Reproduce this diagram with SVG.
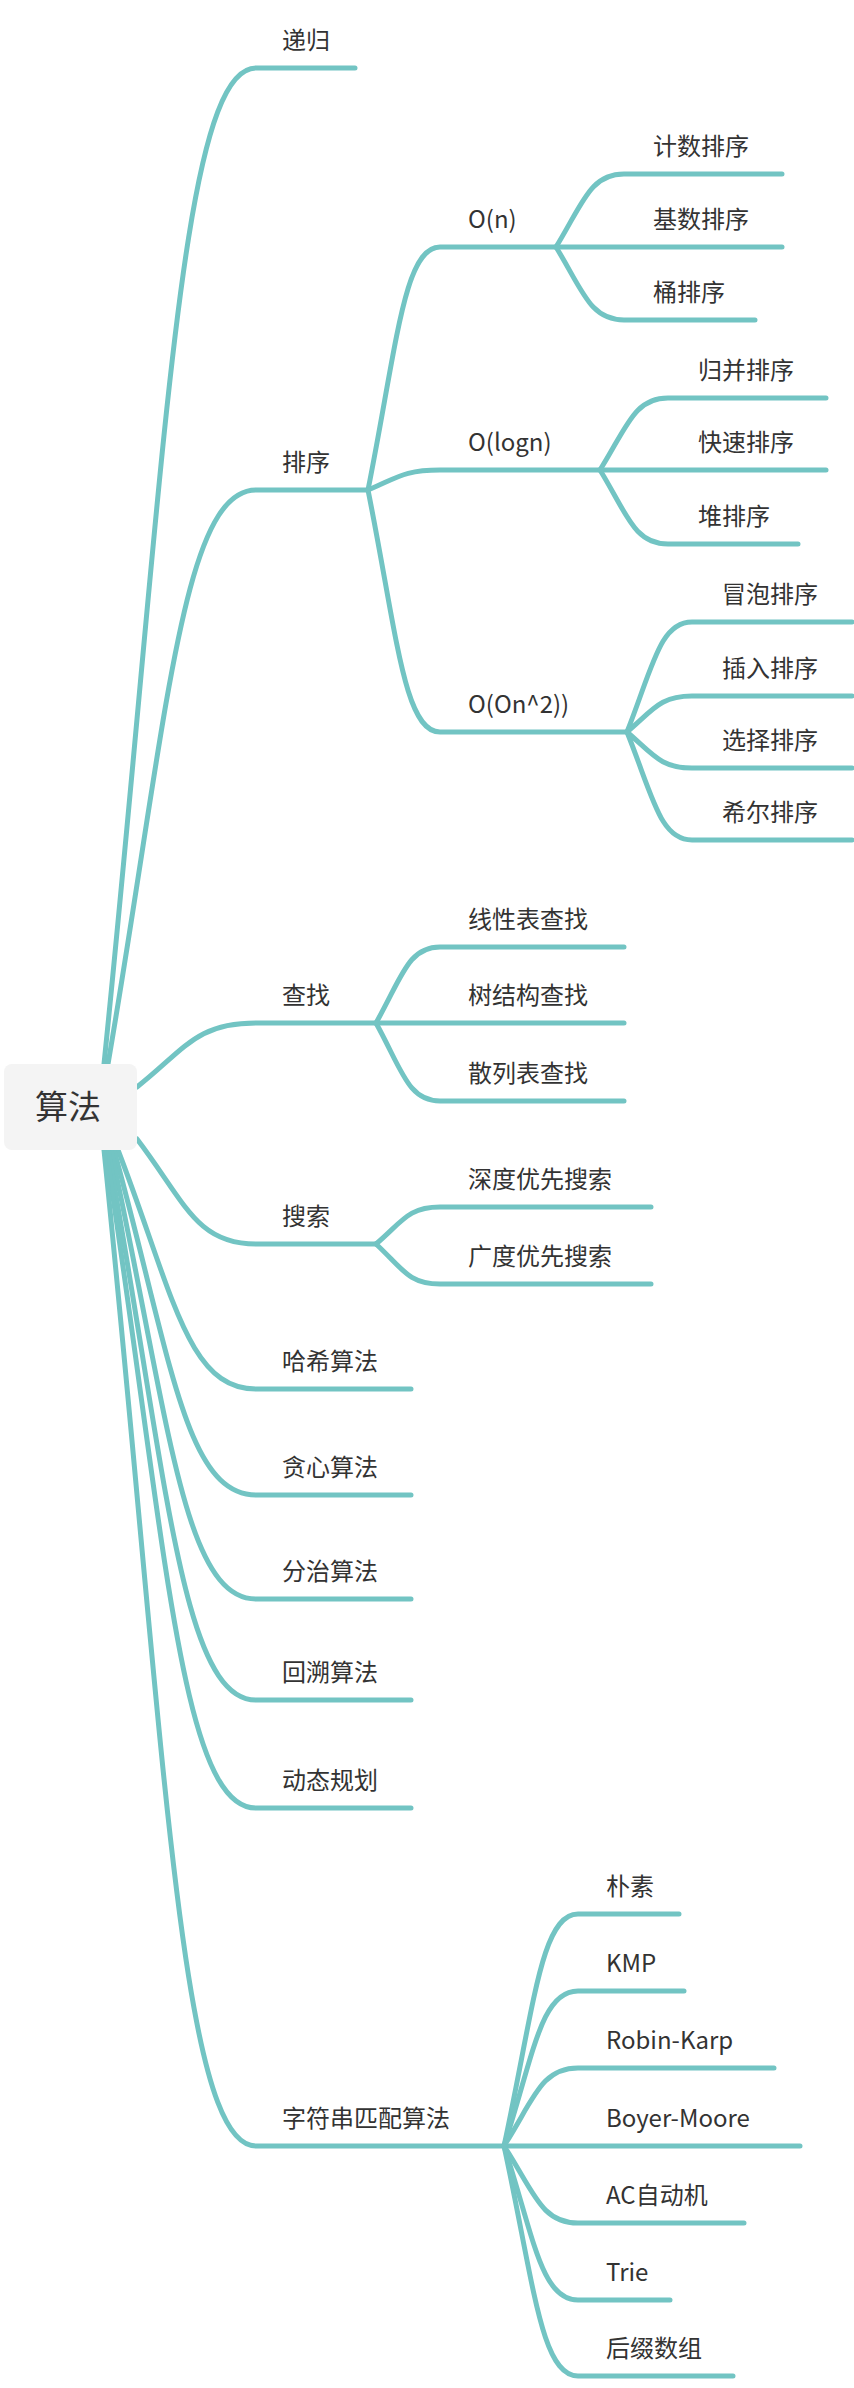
<svg xmlns="http://www.w3.org/2000/svg" width="854" height="2388" viewBox="0 0 854 2388">
<style>
.e{fill:none;stroke:#72c4c3;stroke-width:5;stroke-linecap:round}
text{font-family:"Noto Sans CJK SC","Noto Sans",sans-serif;font-size:24px;fill:#333}
.r{font-size:33px}
</style>
<rect width="854" height="2388" fill="#fff"/>
<g id="connectors">
<path class="e" d="M104 1064C165 466 180 68 256 68L355 68"/>
<path class="e" d="M108 1064C167 720 182 490 256 490L368 490"/>
<path class="e" d="M137 1087C185 1049 196 1023 256 1023L376 1023"/>
<path class="e" d="M137 1139C185 1202 196 1244 256 1244L376 1244"/>
<path class="e" d="M118 1150C173 1293 187 1389 256 1389L411 1389"/>
<path class="e" d="M114 1150C171 1357 185 1495 256 1495L411 1495"/>
<path class="e" d="M111 1150C169 1419 183 1599 256 1599L411 1599"/>
<path class="e" d="M108 1150C167 1480 182 1700 256 1700L411 1700"/>
<path class="e" d="M106 1150C166 1545 181 1808 256 1808L411 1808"/>
<path class="e" d="M104 1150C165 1748 180 2146 256 2146L504 2146"/>
<path class="e" d="M368 490C397 344 404 247 440 247L556 247"/>
<path class="e" d="M368 490C397 478 404 470 440 470L600 470"/>
<path class="e" d="M368 490C397 635 404 732 440 732L627 732"/>
<path class="e" d="M556 247C583 203 590 174 624 174L782 174"/>
<path class="e" d="M556 247L782 247"/>
<path class="e" d="M556 247C583 291 590 320 624 320L755 320"/>
<path class="e" d="M600 470C627 427 634 398 668 398L826 398"/>
<path class="e" d="M600 470L826 470"/>
<path class="e" d="M600 470C627 514 634 544 668 544L798 544"/>
<path class="e" d="M627 732C653 666 660 622 692 622L852 622"/>
<path class="e" d="M627 732C653 710 660 696 692 696L852 696"/>
<path class="e" d="M627 732C653 754 660 768 692 768L852 768"/>
<path class="e" d="M627 732C653 797 660 840 692 840L852 840"/>
<path class="e" d="M376 1023C402 977 408 947 440 947L624 947"/>
<path class="e" d="M376 1023L624 1023"/>
<path class="e" d="M376 1023C402 1070 408 1101 440 1101L624 1101"/>
<path class="e" d="M376 1244C402 1222 408 1207 440 1207L651 1207"/>
<path class="e" d="M376 1244C402 1268 408 1284 440 1284L651 1284"/>
<path class="e" d="M504 2146C534 2007 541 1914 578 1914L679 1914"/>
<path class="e" d="M504 2146C534 2053 541 1991 578 1991L684 1991"/>
<path class="e" d="M504 2146C534 2099 541 2068 578 2068L774 2068"/>
<path class="e" d="M504 2146L800 2146"/>
<path class="e" d="M504 2146C534 2192 541 2223 578 2223L744 2223"/>
<path class="e" d="M504 2146C534 2238 541 2300 578 2300L670 2300"/>
<path class="e" d="M504 2146C534 2284 541 2376 578 2376L733 2376"/>
</g>
<g id="root"><rect x="4" y="1064" width="133" height="86" rx="8" fill="#f4f4f4"/><text class="r" x="35" y="1119">算法</text></g>
<g id="n1"><text x="282" y="49">递归</text></g>
<g id="n2"><text x="282" y="471">排序</text></g>
<g id="n3"><text x="468" y="228">O(n)</text></g>
<g id="n4"><text x="653" y="155">计数排序</text></g>
<g id="n5"><text x="653" y="228">基数排序</text></g>
<g id="n6"><text x="653" y="301">桶排序</text></g>
<g id="n7"><text x="468" y="451">O(logn)</text></g>
<g id="n8"><text x="698" y="379">归并排序</text></g>
<g id="n9"><text x="698" y="451">快速排序</text></g>
<g id="n10"><text x="698" y="525">堆排序</text></g>
<g id="n11"><text x="468" y="713">O(On^2))</text></g>
<g id="n12"><text x="722" y="603">冒泡排序</text></g>
<g id="n13"><text x="722" y="677">插入排序</text></g>
<g id="n14"><text x="722" y="749">选择排序</text></g>
<g id="n15"><text x="722" y="821">希尔排序</text></g>
<g id="n16"><text x="282" y="1004">查找</text></g>
<g id="n17"><text x="468" y="928">线性表查找</text></g>
<g id="n18"><text x="468" y="1004">树结构查找</text></g>
<g id="n19"><text x="468" y="1082">散列表查找</text></g>
<g id="n20"><text x="282" y="1225">搜索</text></g>
<g id="n21"><text x="468" y="1188">深度优先搜索</text></g>
<g id="n22"><text x="468" y="1265">广度优先搜索</text></g>
<g id="n23"><text x="282" y="1370">哈希算法</text></g>
<g id="n24"><text x="282" y="1476">贪心算法</text></g>
<g id="n25"><text x="282" y="1580">分治算法</text></g>
<g id="n26"><text x="282" y="1681">回溯算法</text></g>
<g id="n27"><text x="282" y="1789">动态规划</text></g>
<g id="n28"><text x="282" y="2127">字符串匹配算法</text></g>
<g id="n29"><text x="606" y="1895">朴素</text></g>
<g id="n30"><text x="606" y="1972">KMP</text></g>
<g id="n31"><text x="606" y="2049">Robin-Karp</text></g>
<g id="n32"><text x="606" y="2127">Boyer-Moore</text></g>
<g id="n33"><text x="606" y="2204">AC自动机</text></g>
<g id="n34"><text x="606" y="2281">Trie</text></g>
<g id="n35"><text x="606" y="2357">后缀数组</text></g>
</svg>
